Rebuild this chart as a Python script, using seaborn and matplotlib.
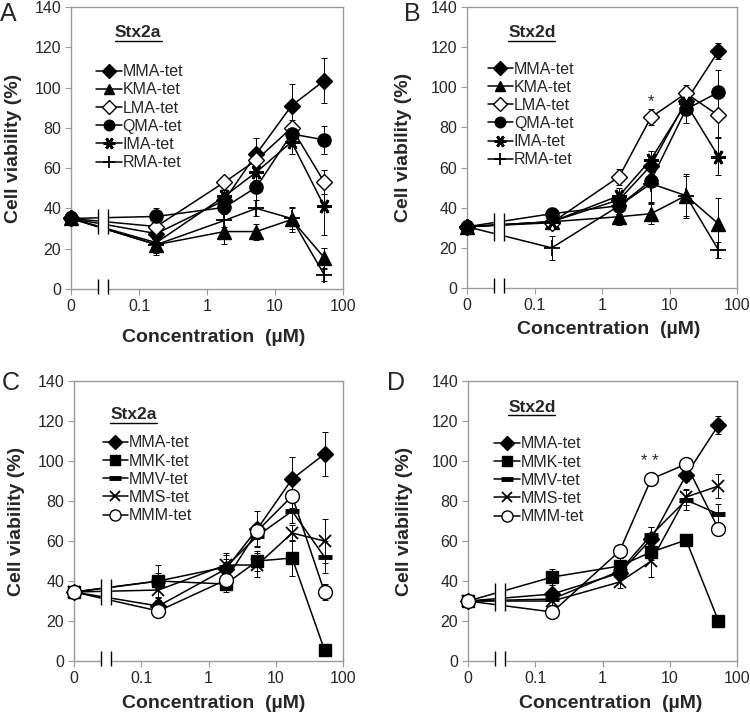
import numpy as np
import pandas as pd
import matplotlib
matplotlib.use("Agg")
import matplotlib.pyplot as plt
import seaborn as sns

# ----------------------------
# DATA
# ----------------------------
# concentrations in uM; the 0 control is drawn one decade left of 0.1
conc = [0, 0.18, 1.8, 5.3, 17.5, 53]
x_ticks = [0, 0.1, 1, 10, 100]
x_tick_labels = ["0", "0.1", "1", "10", "100"]

# panel A : Stx2a
a_mma = [35, 27.5, 44, 67, 91, 103.5]
a_mma_sd = [2, 3, 5, 8, 11, 11]
a_kma = [35, 22, 28.5, 28.5, 34.5, 15.5]
a_kma_sd = [2, 5, 6, 4, 6, 5]
a_lma = [35, 31, 53, 64, 80, 53]
a_lma_sd = [2, 3, 2, 3, 4, 6]
a_qma = [35, 36, 40.5, 50.5, 77, 74]
a_qma_sd = [2, 4, 3, 10, 5, 7]
a_ima = [35, 23, 46, 58, 73, 41]
a_ima_sd = [2, 3, 3, 4, 6, 14]
a_rma = [35, 22, 34, 40, 35, 7]
a_rma_sd = [2, 4, 3, 4, 5, 3]

# panel B : Stx2d
b_mma = [30.5, 33, 44, 61, 93, 118]
b_mma_sd = [2, 3, 4, 4, 5, 4]
b_kma = [30.5, 33, 35.5, 37, 46, 32]
b_kma_sd = [2, 3, 4, 5, 10, 13]
b_lma = [30.5, 32.5, 55.5, 85, 97, 86]
b_lma_sd = [2, 3, 4, 4, 4, 11]
b_qma = [30.5, 37, 41, 53.5, 89, 97.5]
b_qma_sd = [2, 3, 4, 11, 7, 11]
b_ima = [30.5, 33, 46, 64, 92, 65.5]
b_ima_sd = [2, 3, 4, 4, 5, 9]
b_rma = [30.5, 20, 41, 52, 46, 19]
b_rma_sd = [2, 6, 4, 9, 11, 4]

# panel C : Stx2a
c_mma = [34.5, 27.5, 46, 66, 91, 103.5]
c_mma_sd = [2, 3, 8, 9, 11, 11]
c_mmk = [34.5, 40, 38.5, 50, 51.5, 5.5]
c_mmk_sd = [2, 8, 4, 5, 9, 2]
c_mmv = [34.5, 40, 47, 62.5, 75, 52]
c_mmv_sd = [2, 4, 4, 5, 6, 8]
c_mms = [34.5, 35.5, 48, 48, 64, 60]
c_mms_sd = [2, 4, 5, 6, 4, 11]
c_mmm = [34.5, 25, 40.5, 65, 82.5, 34.5]
c_mmm_sd = [2, 2, 4, 4, 6, 4]

# panel D : Stx2d
d_mma = [30, 33.5, 44, 61, 93, 118]
d_mma_sd = [2, 3, 3, 6, 3, 4.5]
d_mmk = [30, 42, 47.5, 54.5, 60.5, 20]
d_mmk_sd = [2, 4, 4, 4, 3, 3]
d_mmv = [30, 31, 45, 63, 80.5, 73.5]
d_mmv_sd = [2, 3, 3, 4, 5, 5]
d_mms = [30, 30, 39.5, 50, 82, 87.5]
d_mms_sd = [2, 3, 3, 8, 4, 6]
d_mmm = [30, 24.5, 55, 91, 98.5, 66]
d_mmm_sd = [2, 2, 3, 3, 3, 3]

# ----------------------------
# STYLE
# ----------------------------
ZERO_POS = 0.01           # where "0" sits on the log axis
BREAK_X = (0.025, 0.035)  # the "||" axis break
GREY = "#9a9a9a"

marker_styles = {
    "MMA-tet": dict(marker="D", ms=8.5, mfc="black", mew=1.0),
    "KMA-tet": dict(marker="^", ms=9.5, mfc="black", mew=1.0),
    "LMA-tet": dict(marker="D", ms=8.5, mfc="white", mew=1.0),
    "QMA-tet": dict(marker="o", ms=9.5, mfc="black", mew=1.0),
    "IMA-tet": dict(marker=(6, 2, 90), ms=10.5, mfc="black", mew=2.0),
    "RMA-tet": dict(marker="+", ms=11, mfc="black", mew=1.3),
    "MMK-tet": dict(marker="s", ms=9, mfc="black", mew=1.0),
    "MMV-tet": dict(marker="_", ms=10, mfc="black", mew=3.5),
    "MMS-tet": dict(marker="x", ms=9, mfc="black", mew=1.3),
    "MMM-tet": dict(marker="o", ms=10, mfc="white", mew=1.0),
}

legend_anchor = {
    "A": (0.093, 0.797),
    "B": (0.076, 0.806),
    "C": (0.106, 0.806),
    "D": (0.098, 0.802),
}

sns.set_style("white", {"axes.edgecolor": GREY})
plt.rcParams["font.family"] = ["Liberation Sans", "DejaVu Sans"]


def to_pos(values):
    return [ZERO_POS if v == 0 else v for v in values]


def draw_panel(ax, series, toxin, letter, ylab_x, xlab_xy, toxin_pos, star=None):
    ax.set_xscale("log")
    xpos = to_pos(conc)
    for name, mean, sd in series:
        st = marker_styles[name]
        eb = ax.errorbar(xpos, mean, yerr=sd, fmt="none", ecolor="black",
                         elinewidth=0.7, capsize=2.5, capthick=0.7, zorder=2)
        for art in eb.lines[1] + eb.lines[2]:
            art.set_clip_on(False)
        df = pd.DataFrame({"conc": xpos, "viability": mean})
        sns.lineplot(data=df, x="conc", y="viability", ax=ax, color="black",
                     lw=1.1, label=name, legend=False, marker=st["marker"],
                     markersize=st["ms"], markerfacecolor=st["mfc"],
                     markeredgecolor="black", markeredgewidth=st["mew"],
                     clip_on=False, zorder=3)

    # white gap with "||" where the lines cross the axis break
    frac = np.log(np.mean(BREAK_X) / ZERO_POS) / np.log(conc[1] / ZERO_POS)
    at_break = [m[0] + frac * (m[1] - m[0]) for _, m, _ in series]
    lo, hi = min(at_break) - 3, max(at_break) + 4.5
    ax.fill_betweenx([lo, hi], BREAK_X[0], BREAK_X[1], color="white", zorder=4)
    ax.vlines(BREAK_X, lo, hi, color="black", lw=1.0, zorder=5)
    # same mark on the x axis
    ax.fill_betweenx([-1, 1], BREAK_X[0], BREAK_X[1], color="white",
                     zorder=4, clip_on=False)
    ax.vlines(BREAK_X, -2.5, 5, color="black", lw=1.0, zorder=5, clip_on=False)

    ax.set_xlim(ZERO_POS, 100)
    ax.set_ylim(0, 140)
    ax.set_xticks(to_pos(x_ticks))
    ax.set_xticklabels(x_tick_labels)
    ax.minorticks_off()
    ax.set_yticks(range(0, 141, 20))
    ax.tick_params(axis="both", labelsize=11.5, color=GREY, length=4,
                   direction="out", left=True, bottom=True, pad=3)
    for sp in ax.spines.values():
        sp.set_color(GREY)
        sp.set_linewidth(1.0)

    ax.set_ylabel("Cell viability (%)", fontsize=14, fontweight="bold")
    ax.set_xlabel("Concentration  (\u00b5M)", fontsize=14, fontweight="bold")
    ax.yaxis.set_label_coords(ylab_x, 0.5)
    ax.xaxis.set_label_coords(xlab_xy[0], xlab_xy[1])
    ax.xaxis.label.set_va("top")

    # toxin name, underlined
    tx, ty, tx1, uy = toxin_pos
    ax.text(tx, ty, toxin, transform=ax.transAxes, fontsize=12.5,
            fontweight="bold", ha="left", va="center")
    ax.plot([tx, tx1], [uy, uy], transform=ax.transAxes, color="black", lw=1.0)

    ax.legend(loc="upper left", bbox_to_anchor=legend_anchor[letter],
              frameon=False, fontsize=11.5, handlelength=1.6,
              handletextpad=0.05, labelspacing=0.2, markerscale=0.8,
              borderaxespad=0, borderpad=0)

    if star is not None:
        sx, sy, stext = star
        ax.text(sx, sy, stext, ha="center", va="bottom", fontsize=12)


fig = plt.figure(figsize=(7.5, 7.21), dpi=100)
ax_a = fig.add_axes([0.0947, 0.5992, 0.3627, 0.3911])
ax_b = fig.add_axes([0.6227, 0.6006, 0.36, 0.3897])
ax_c = fig.add_axes([0.0987, 0.0832, 0.3587, 0.3883])
ax_d = fig.add_axes([0.624, 0.0832, 0.3587, 0.3883])

draw_panel(ax_a, [("MMA-tet", a_mma, a_mma_sd), ("KMA-tet", a_kma, a_kma_sd),
                  ("LMA-tet", a_lma, a_lma_sd), ("QMA-tet", a_qma, a_qma_sd),
                  ("IMA-tet", a_ima, a_ima_sd), ("RMA-tet", a_rma, a_rma_sd)],
           "Stx2a", "A", -0.18, (0.524, -0.142), (0.16, 0.908, 0.335, 0.878))
draw_panel(ax_b, [("MMA-tet", b_mma, b_mma_sd), ("KMA-tet", b_kma, b_kma_sd),
                  ("LMA-tet", b_lma, b_lma_sd), ("QMA-tet", b_qma, b_qma_sd),
                  ("IMA-tet", b_ima, b_ima_sd), ("RMA-tet", b_rma, b_rma_sd)],
           "Stx2d", "B", -0.204, (0.524, -0.118), (0.152, 0.908, 0.326, 0.878),
           star=(5.3, 89, "*"))
draw_panel(ax_c, [("MMA-tet", c_mma, c_mma_sd), ("MMK-tet", c_mmk, c_mmk_sd),
                  ("MMV-tet", c_mmv, c_mmv_sd), ("MMS-tet", c_mms, c_mms_sd),
                  ("MMM-tet", c_mmm, c_mmm_sd)],
           "Stx2a", "C", -0.182, (0.519, -0.12), (0.134, 0.879, 0.309, 0.85))
draw_panel(ax_d, [("MMA-tet", d_mma, d_mma_sd), ("MMK-tet", d_mmk, d_mmk_sd),
                  ("MMV-tet", d_mmv, d_mmv_sd), ("MMS-tet", d_mms, d_mms_sd),
                  ("MMM-tet", d_mmm, d_mmm_sd)],
           "Stx2d", "D", -0.204, (0.53, -0.12), (0.149, 0.907, 0.323, 0.877),
           star=(5.0, 96, "* *"))

# panel letters
for letter, (fx, fy) in {"A": (0.0, 0.997), "B": (0.538, 0.997),
                         "C": (0.002, 0.485), "D": (0.516, 0.485)}.items():
    fig.text(fx, fy, letter, fontsize=18, ha="left", va="top")

fig.savefig("out.png", dpi=100)
